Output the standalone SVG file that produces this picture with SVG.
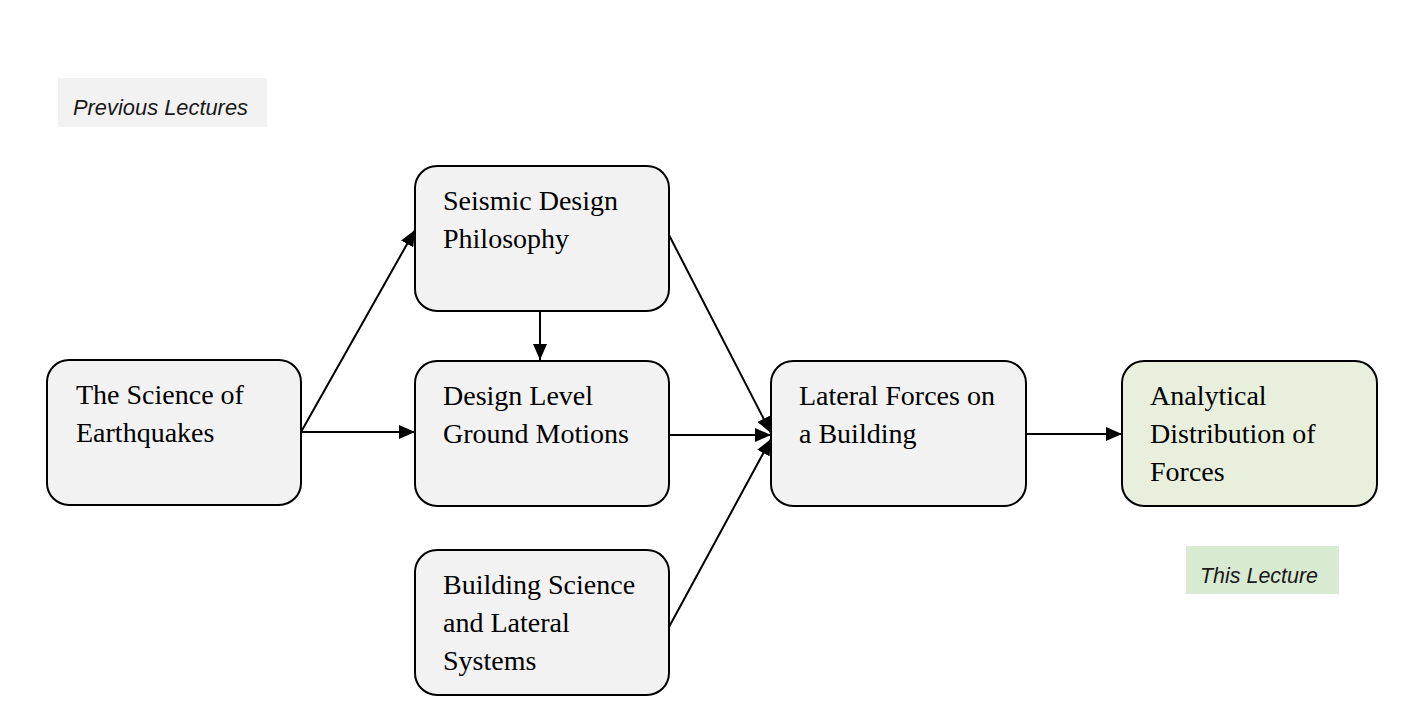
<svg xmlns="http://www.w3.org/2000/svg" width="1425" height="720" viewBox="0 0 1425 720">
<defs>
<marker id="arr" viewBox="0 0 16 14" refX="16" refY="7" markerWidth="16" markerHeight="14" markerUnits="userSpaceOnUse" orient="auto">
<path d="M0,0 L16,7 L0,14 Z" fill="#000"/>
</marker>
</defs>
<style>
.box{fill:#f2f2f2;stroke:#000;stroke-width:2}
.green{fill:#e8f0dd}
.t{font-family:"Liberation Serif","Times New Roman",serif;font-size:28px;fill:#000}
.lbl{font-family:"Liberation Sans",Arial,sans-serif;font-style:italic;font-size:22px;fill:#1a1a1a}
.c{stroke:#000;stroke-width:2;fill:none;marker-end:url(#arr)}
</style>
<rect width="1425" height="720" fill="#fff"/>
<g id="label-previous">
<rect x="58" y="78" width="209" height="49" fill="#f2f2f2"/>
<text class="lbl" x="73" y="115" textLength="175" lengthAdjust="spacingAndGlyphs">Previous Lectures</text>
</g>
<g id="label-this">
<rect x="1186" y="546" width="153" height="48" fill="#d9ead3"/>
<text class="lbl" x="1200" y="583" textLength="118" lengthAdjust="spacingAndGlyphs">This Lecture</text>
</g>
<g id="connectors">
<line class="c" x1="301" y1="432" x2="415" y2="230"/>
<line class="c" x1="301" y1="432" x2="415" y2="432"/>
<line class="c" x1="540" y1="311" x2="540" y2="360"/>
<line class="c" x1="669" y1="235" x2="771" y2="433"/>
<line class="c" x1="669" y1="435" x2="771" y2="435"/>
<line class="c" x1="669" y1="627" x2="771" y2="439"/>
<line class="c" x1="1026" y1="434" x2="1122" y2="434"/>
</g>
<g id="node-science">
<rect class="box" x="47" y="360" width="254" height="145" rx="22"/>
<text class="t" x="76" y="404">The Science of</text>
<text class="t" x="76" y="442">Earthquakes</text>
</g>
<g id="node-philosophy">
<rect class="box" x="415" y="166" width="254" height="145" rx="22"/>
<text class="t" x="443" y="210">Seismic Design</text>
<text class="t" x="443" y="248">Philosophy</text>
</g>
<g id="node-groundmotions">
<rect class="box" x="415" y="361" width="254" height="145" rx="22"/>
<text class="t" x="443" y="405">Design Level</text>
<text class="t" x="443" y="443">Ground Motions</text>
</g>
<g id="node-building">
<rect class="box" x="415" y="550" width="254" height="145" rx="22"/>
<text class="t" x="443" y="594">Building Science</text>
<text class="t" x="443" y="632">and Lateral</text>
<text class="t" x="443" y="670">Systems</text>
</g>
<g id="node-lateral">
<rect class="box" x="771" y="361" width="255" height="145" rx="22"/>
<text class="t" x="799" y="405">Lateral Forces on</text>
<text class="t" x="799" y="443">a Building</text>
</g>
<g id="node-analytical">
<rect class="box green" x="1122" y="361" width="255" height="145" rx="22"/>
<text class="t" x="1150" y="405">Analytical</text>
<text class="t" x="1150" y="443">Distribution of</text>
<text class="t" x="1150" y="481">Forces</text>
</g>
</svg>
